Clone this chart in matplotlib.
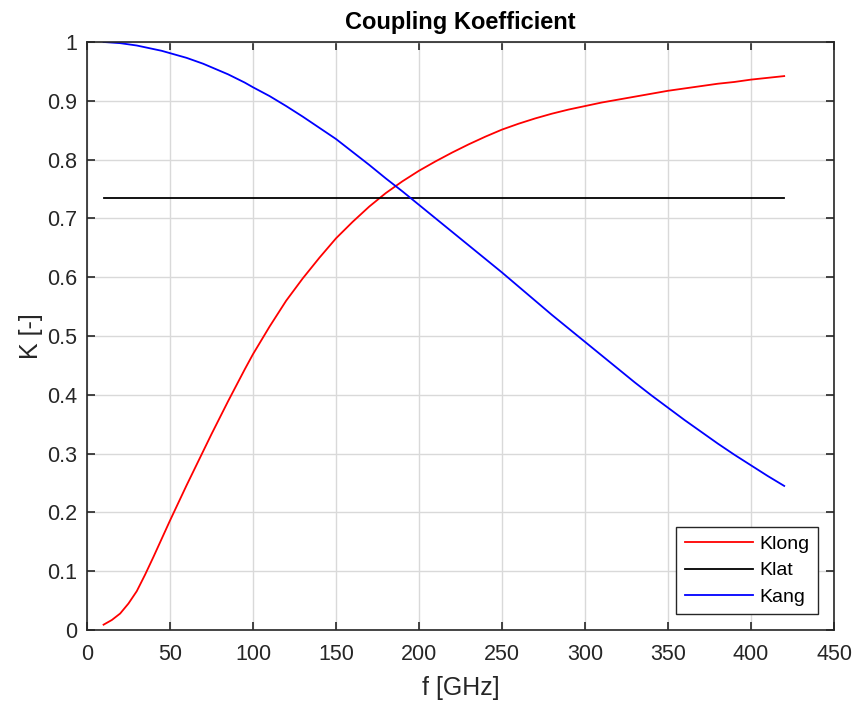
import matplotlib.pyplot as plt

plt.rcParams['font.family'] = ['Liberation Sans', 'DejaVu Sans']

f_ghz = [10, 15, 20, 25, 30, 35, 40, 45, 50, 55,
         60, 65, 70, 75, 80, 85, 90, 95, 100, 110,
         120, 130, 140, 150, 160, 170, 180, 190, 200, 210,
         220, 230, 240, 250, 260, 270, 280, 290, 300, 310,
         320, 330, 340, 350, 360, 370, 380, 390, 400, 410,
         420]

k_long = [0.009, 0.017, 0.028, 0.045, 0.066, 0.094, 0.124, 0.155, 0.186, 0.216,
          0.246, 0.275, 0.304, 0.333, 0.361, 0.389, 0.416, 0.443, 0.469, 0.516,
          0.560, 0.598, 0.633, 0.666, 0.694, 0.720, 0.743, 0.763, 0.781, 0.797,
          0.812, 0.826, 0.839, 0.851, 0.861, 0.870, 0.878, 0.885, 0.891, 0.897,
          0.902, 0.907, 0.912, 0.917, 0.921, 0.925, 0.929, 0.932, 0.936, 0.939,
          0.942]

k_lat = [0.735] * len(f_ghz)

k_ang = [1.000, 0.999, 0.998, 0.996, 0.994, 0.991, 0.988, 0.985, 0.981, 0.977,
         0.973, 0.968, 0.963, 0.957, 0.951, 0.945, 0.938, 0.931, 0.923, 0.908,
         0.891, 0.873, 0.854, 0.835, 0.813, 0.791, 0.768, 0.746, 0.723, 0.700,
         0.677, 0.654, 0.631, 0.608, 0.584, 0.560, 0.536, 0.513, 0.490, 0.467,
         0.444, 0.421, 0.399, 0.378, 0.357, 0.337, 0.317, 0.298, 0.280, 0.262,
         0.245]

fig = plt.figure(figsize=(8.56, 7.02), dpi=100)
ax = fig.add_axes([0.1016, 0.1026, 0.8727, 0.8376])

ax.plot(f_ghz, k_long, color='#ff0000', lw=1.3, label='Klong')
ax.plot(f_ghz, k_lat, color='#000000', lw=1.3, label='Klat')
ax.plot(f_ghz, k_ang, color='#0000ff', lw=1.3, label='Kang')

ax.set_xlim(0, 450)
ax.set_ylim(0, 1)
ax.set_xticks(range(0, 451, 50))
ax.set_yticks([i / 10 for i in range(11)])
ax.set_yticklabels(['0', '0.1', '0.2', '0.3', '0.4', '0.5', '0.6', '0.7', '0.8', '0.9', '1'])
ax.grid(True, color='#d9d9d9', lw=1)
ax.set_axisbelow(True)
ax.tick_params(direction='in', top=True, right=True, labelsize=15.5, length=6,
               width=1.2, color='#262626', labelcolor='#262626')
ax.tick_params(axis='x', pad=10)
ax.tick_params(axis='y', pad=7)
for s in ax.spines.values():
    s.set_color('#262626')
    s.set_linewidth(1.2)

ax.set_title('Coupling Koefficient', fontsize=17, fontweight='bold', pad=9)
ax.set_xlabel('f [GHz]', fontsize=18, labelpad=8, color='#262626')
ax.set_ylabel('K [-]', fontsize=18, labelpad=3, color='#262626')

leg = ax.legend(loc='lower right', fontsize=14, fancybox=False, framealpha=1,
                edgecolor='#262626', borderaxespad=0.8, handlelength=3.5,
                labelspacing=0.45, borderpad=0.45, handletextpad=0.35)
leg.get_frame().set_linewidth(1.0)

fig.savefig('out.png', dpi=100)
